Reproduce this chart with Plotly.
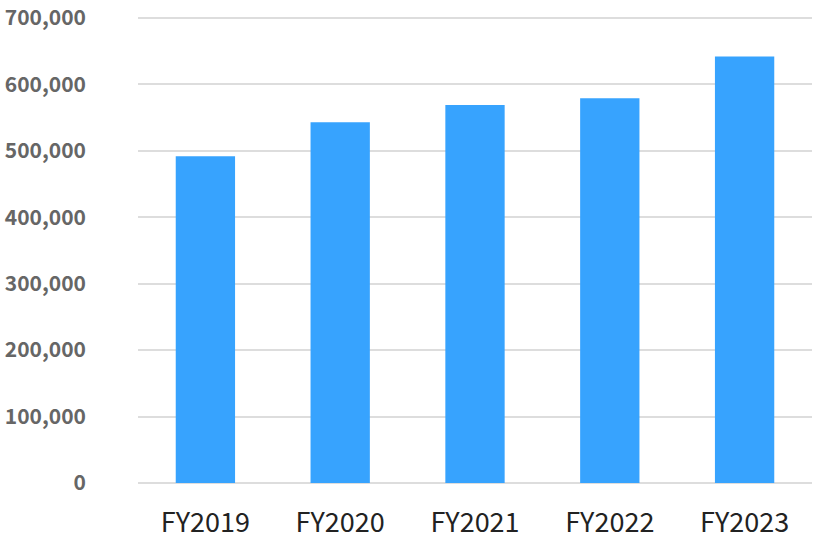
import plotly.graph_objects as go

categories = ["FY2019", "FY2020", "FY2021", "FY2022", "FY2023"]
values = [492000, 543000, 569000, 579000, 642000]
y_ticks = [0, 100000, 200000, 300000, 400000, 500000, 600000, 700000]
y_tick_labels = ["0", "100,000", "200,000", "300,000", "400,000", "500,000", "600,000", "700,000"]

fig = go.Figure(
    go.Bar(x=categories, y=values, marker=dict(color="#37a3fe", line=dict(width=0)))
)

fig.update_layout(
    width=822, height=544,
    margin=dict(l=138, r=10, t=16, b=61),
    plot_bgcolor="white", paper_bgcolor="white",
    bargap=0.56,
    showlegend=False,
    font=dict(family="Noto Sans CJK JP, Noto Sans, sans-serif"),
)
fig.update_yaxes(
    range=[0, 703000], tickvals=y_ticks, ticktext=y_tick_labels,
    showgrid=True, gridcolor="#dddddd", gridwidth=2,
    zeroline=True, zerolinecolor="#dddddd", zerolinewidth=2,
    tickfont=dict(size=21, color="#666666", weight="bold"),
    ticklabelstandoff=51, showline=False, automargin=False,
)
fig.update_xaxes(
    tickfont=dict(size=27, color="#222222"),
    ticklabelstandoff=21, showline=False, automargin=False,
)

fig.write_html("out.html", config={"displayModeBar": False},
               post_script="document.body.style.margin='0';")
